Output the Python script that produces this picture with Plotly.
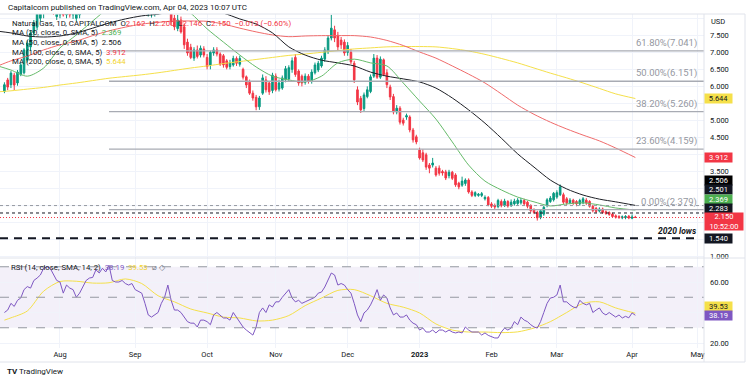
import plotly.graph_objects as go
import pandas as pd

# ============================ DATA ============================
first_day, last_day = "2022-07-07", "2023-04-04"   # daily candles, weekdays

opens = [
    5.85, 6.19, 6.05, 6.33, 6.10, 6.35, 6.40, 6.77, 7.16, 7.57,
    7.74, 8.00, 8.40, 8.80, 9.20, 8.70, 8.05, 8.10, 8.40, 8.10,
    8.30, 8.10, 8.00, 8.10, 8.30, 8.50, 8.90, 8.80, 8.70, 8.90,
    9.30, 9.30, 9.40, 9.60, 9.20, 9.30, 9.40, 9.30, 9.20, 9.10,
    9.10, 8.90, 8.80, 8.60, 8.30, 8.15, 8.20, 8.30, 8.50, 8.40,
    8.60, 8.30, 8.00, 7.70, 7.95, 7.75, 7.30, 7.15, 6.83, 7.07,
    6.92, 7.10, 6.85, 6.63, 6.98, 7.07, 6.95, 6.90, 6.75, 6.58,
    6.63, 6.82, 6.65, 6.50, 6.28, 6.12, 5.80, 5.68, 5.40, 5.80,
    6.19, 6.10, 5.88, 6.30, 5.92, 5.95, 6.20, 6.22, 6.50, 6.85,
    6.45, 6.30, 6.12, 6.30, 6.15, 6.40, 6.48, 6.60, 6.80, 7.02,
    7.42, 7.66, 7.50, 7.36, 7.30, 7.00, 7.00, 6.68, 5.90, 5.65,
    5.35, 5.70, 5.85, 6.30, 6.83, 6.27, 6.78, 6.40, 5.98, 5.70,
    5.25, 5.36, 5.01, 5.10, 5.10, 4.72, 4.52, 4.13, 4.05, 3.99,
    3.69, 3.69, 3.60, 3.60, 3.50, 3.49, 3.38, 3.48, 3.40, 3.16,
    3.10, 3.15, 3.25, 2.90, 2.80, 2.80, 2.80, 2.70, 2.74, 2.55,
    2.50, 2.47, 2.62, 2.50, 2.62, 2.50, 2.55, 2.56, 2.58, 2.65,
    2.60, 2.50, 2.38, 2.30, 2.15, 2.25, 2.50, 2.62, 2.67, 2.75,
    2.82, 2.82, 2.70, 2.58, 2.66, 2.62, 2.55, 2.58, 2.66, 2.62,
    2.48, 2.42, 2.34, 2.40, 2.32, 2.30, 2.25, 2.20, 2.18, 2.14,
    2.15, 2.19, 2.13, 2.162,
]
highs = [
    6.12, 6.25, 6.45, 6.40, 6.48, 6.70, 7.12, 7.35, 7.65, 7.95,
    8.35, 8.70, 8.90, 9.40, 9.50, 8.90, 8.50, 8.60, 8.50, 8.45,
    8.40, 8.30, 8.25, 8.40, 8.60, 9.00, 9.10, 9.00, 9.00, 9.40,
    9.50, 9.50, 9.92, 9.70, 9.50, 9.60, 9.50, 9.50, 9.30, 9.30,
    9.20, 9.00, 8.90, 8.70, 8.50, 8.50, 8.55, 8.60, 8.70, 8.90,
    8.70, 8.40, 8.10, 8.10, 8.05, 7.85, 7.40, 7.25, 7.15, 7.20,
    7.20, 7.18, 6.95, 7.05, 7.15, 7.15, 7.00, 6.95, 6.80, 6.78,
    6.90, 6.88, 6.90, 6.55, 6.32, 6.20, 5.88, 5.75, 5.72, 6.35,
    6.30, 6.15, 6.40, 6.38, 6.20, 6.32, 6.60, 6.62, 6.85, 6.95,
    6.50, 6.35, 6.38, 6.36, 6.50, 6.70, 6.75, 6.90, 7.15, 7.50,
    8.10, 7.78, 7.60, 7.45, 7.38, 7.30, 7.10, 6.75, 6.00, 5.72,
    5.82, 6.00, 6.35, 6.95, 6.92, 6.88, 6.82, 6.50, 6.05, 5.78,
    5.45, 5.42, 5.08, 5.20, 5.15, 4.78, 4.58, 4.20, 4.15, 4.05,
    3.75, 3.90, 3.66, 3.68, 3.55, 3.55, 3.55, 3.52, 3.45, 3.20,
    3.35, 3.30, 3.30, 2.95, 2.92, 2.87, 2.90, 2.80, 2.78, 2.60,
    2.56, 2.70, 2.68, 2.70, 2.66, 2.68, 2.70, 2.72, 2.73, 2.70,
    2.64, 2.54, 2.42, 2.35, 2.40, 2.50, 2.72, 2.78, 2.90, 2.95,
    3.12, 2.88, 2.75, 2.72, 2.70, 2.66, 2.70, 2.75, 2.72, 2.66,
    2.52, 2.46, 2.45, 2.44, 2.36, 2.33, 2.29, 2.24, 2.22, 2.21,
    2.22, 2.22, 2.24, 2.200,
]
lows = [
    5.80, 5.89, 5.95, 5.89, 6.02, 6.30, 6.35, 6.70, 7.05, 7.48,
    7.65, 7.90, 8.00, 8.60, 8.50, 8.10, 7.95, 8.00, 8.05, 8.00,
    8.02, 7.98, 7.92, 8.00, 8.15, 8.40, 8.60, 8.50, 8.50, 8.80,
    9.10, 9.10, 9.30, 9.00, 9.00, 9.20, 9.00, 9.00, 8.90, 8.80,
    8.70, 8.50, 8.40, 8.20, 8.05, 8.02, 8.05, 8.10, 8.20, 8.30,
    8.15, 7.80, 7.65, 7.62, 7.55, 7.10, 6.90, 6.80, 6.75, 6.82,
    6.85, 6.85, 6.50, 6.50, 6.90, 6.88, 6.60, 6.55, 6.50, 6.50,
    6.58, 6.60, 6.58, 6.20, 5.95, 5.75, 5.58, 5.30, 5.31, 5.75,
    5.82, 5.75, 5.80, 5.85, 5.85, 5.90, 6.12, 6.15, 6.40, 6.28,
    6.02, 6.00, 6.05, 6.08, 6.08, 6.35, 6.42, 6.55, 6.72, 6.95,
    7.35, 7.30, 7.05, 7.10, 6.90, 6.90, 6.65, 6.10, 5.45, 5.22,
    5.28, 5.65, 5.80, 6.25, 6.22, 6.22, 6.30, 5.95, 5.60, 5.18,
    5.18, 4.88, 4.85, 5.02, 4.65, 4.35, 4.30, 3.85, 3.78, 3.55,
    3.45, 3.62, 3.35, 3.38, 3.38, 3.25, 3.30, 3.25, 3.05, 2.98,
    3.05, 3.08, 2.85, 2.75, 2.75, 2.76, 2.75, 2.65, 2.48, 2.43,
    2.40, 2.42, 2.45, 2.46, 2.44, 2.46, 2.50, 2.52, 2.53, 2.50,
    2.42, 2.30, 2.25, 2.06, 2.10, 2.20, 2.45, 2.58, 2.62, 2.70,
    2.78, 2.55, 2.52, 2.54, 2.52, 2.48, 2.50, 2.54, 2.52, 2.44,
    2.30, 2.28, 2.30, 2.26, 2.23, 2.20, 2.15, 2.12, 2.11, 2.10,
    2.10, 2.10, 2.10, 2.146,
]
closes = [
    6.05, 5.98, 6.39, 6.04, 6.42, 6.63, 7.07, 7.27, 7.57, 7.86,
    8.24, 8.60, 8.80, 9.20, 8.70, 8.30, 8.35, 8.40, 8.10, 8.35,
    8.10, 8.20, 8.15, 8.30, 8.50, 8.90, 8.80, 8.70, 8.90, 9.30,
    9.35, 9.40, 9.60, 9.20, 9.30, 9.40, 9.30, 9.20, 9.10, 9.05,
    8.90, 8.80, 8.60, 8.40, 8.40, 8.40, 8.45, 8.50, 8.40, 8.60,
    8.30, 7.90, 7.75, 7.95, 7.60, 7.22, 6.98, 6.85, 7.07, 6.88,
    7.12, 6.92, 6.58, 7.00, 7.07, 6.95, 6.65, 6.63, 6.56, 6.70,
    6.82, 6.68, 6.82, 6.27, 6.04, 5.80, 5.66, 5.40, 5.66, 6.25,
    5.90, 5.84, 6.33, 5.90, 6.10, 6.25, 6.52, 6.55, 6.75, 6.35,
    6.10, 6.10, 6.30, 6.15, 6.42, 6.63, 6.68, 6.83, 7.07, 7.42,
    7.71, 7.42, 7.16, 7.22, 6.98, 7.20, 6.72, 6.19, 5.54, 5.31,
    5.75, 5.90, 6.28, 6.83, 6.27, 6.80, 6.35, 6.05, 5.69, 5.25,
    5.36, 4.95, 4.92, 5.14, 4.72, 4.43, 4.37, 3.90, 3.84, 3.63,
    3.60, 3.75, 3.40, 3.45, 3.46, 3.31, 3.48, 3.30, 3.11, 3.05,
    3.22, 3.25, 2.90, 2.80, 2.88, 2.83, 2.85, 2.74, 2.52, 2.48,
    2.46, 2.65, 2.50, 2.63, 2.49, 2.60, 2.63, 2.66, 2.65, 2.55,
    2.48, 2.35, 2.30, 2.14, 2.35, 2.45, 2.67, 2.72, 2.86, 2.88,
    3.05, 2.60, 2.58, 2.66, 2.57, 2.55, 2.65, 2.70, 2.58, 2.48,
    2.35, 2.33, 2.40, 2.30, 2.27, 2.24, 2.18, 2.16, 2.15, 2.17,
    2.18, 2.14, 2.163, 2.150,
]
rsi = [
    40, 41.6, 46, 44, 48, 49.5, 55, 57, 56, 61,
    62.6, 64.6, 69, 70, 69, 64.6, 61, 60, 52.7, 58,
    56, 55, 50, 52.7, 56.7, 61, 62.6, 63, 68, 65.9,
    69, 66.6, 71, 61, 60, 60, 61, 59, 58, 59,
    55, 54, 52.7, 46, 38.4, 37, 38.4, 40, 46, 50,
    58, 48, 41.6, 41.6, 40, 37, 34, 33, 33, 30.5,
    35, 35, 34, 32, 38.4, 40, 38.4, 36.4, 36.4, 35,
    40, 37, 34, 30.5, 28.5, 26.6, 25.2, 30.5, 40, 43,
    40, 45, 43.6, 47, 47, 50, 52.7, 55, 49.5, 47,
    48, 46, 47, 48, 49.5, 50, 52.7, 53.4, 56.7, 61,
    65.9, 64.6, 58, 59, 58, 55, 52.7, 46, 38.4, 34,
    39.7, 41.6, 45, 49.5, 55, 48, 51.5, 49.5, 43, 38.4,
    39.7, 37, 37, 38.4, 35, 33, 32, 28.5, 29.8, 27.2,
    27.2, 28.5, 26.6, 28.5, 28.5, 27.2, 28.5, 27.2, 26.6, 27.2,
    26.6, 30.5, 28.5, 27.2, 27.2, 27.2, 25.2, 26.6, 25, 24,
    23.3, 23.3, 27.2, 29.8, 28.5, 29.8, 34, 32, 37, 35,
    34, 32, 30.5, 29.8, 34, 40, 46, 49.5, 50, 51.5,
    58, 47, 47, 45, 43.6, 43, 48, 46, 45, 46,
    40, 41.6, 43, 39.7, 38.4, 40, 38.4, 37, 38.4, 36.4,
    37.5, 36.5, 39.7, 38.19,
]

# weekly readings of the moving averages
ma_days = [
    "2022-07-05", "2022-07-11", "2022-07-18", "2022-07-25", "2022-08-01",
    "2022-08-08", "2022-08-15", "2022-08-22", "2022-08-29", "2022-09-05",
    "2022-09-12", "2022-09-19", "2022-09-26", "2022-10-03", "2022-10-10",
    "2022-10-17", "2022-10-24", "2022-10-31", "2022-11-07", "2022-11-14",
    "2022-11-21", "2022-11-28", "2022-12-05", "2022-12-12", "2022-12-19",
    "2022-12-26", "2023-01-02", "2023-01-09", "2023-01-16", "2023-01-23",
    "2023-01-30", "2023-02-06", "2023-02-13", "2023-02-20", "2023-02-27",
    "2023-03-06", "2023-03-13", "2023-03-20", "2023-03-27", "2023-04-04",
]
ma20 = [6.60, 6.48, 6.30, 6.54, 7.13, 7.51, 7.92, 8.30, 8.50, 8.68,
        8.68, 8.50, 8.15, 7.69, 7.30, 6.92, 6.57, 6.30, 6.19, 6.13,
        6.30, 6.69, 6.80, 6.69, 6.60, 6.10, 5.57, 5.04, 4.37, 3.69,
        3.22, 2.96, 2.75, 2.61, 2.49, 2.55, 2.58, 2.52, 2.43, 2.369]
ma50 = [7.62, 7.57, 7.48, 7.45, 7.48, 7.57, 7.71, 7.86, 7.98, 8.07,
        8.12, 8.21, 8.26, 8.24, 8.15, 7.98, 7.83, 7.57, 7.16, 6.92,
        6.77, 6.69, 6.60, 6.42, 6.30, 6.22, 6.13, 5.95, 5.66, 5.31,
        4.92, 4.48, 4.02, 3.63, 3.25, 2.99, 2.81, 2.69, 2.61, 2.506]
ma100 = [6.60, 6.75, 6.89, 7.07, 7.22, 7.33, 7.49, 7.63, 7.74, 7.83,
         7.88, 7.92, 7.92, 7.91, 7.83, 7.71, 7.60, 7.51, 7.46, 7.48,
         7.49, 7.49, 7.49, 7.45, 7.35, 7.20, 7.01, 6.83, 6.60, 6.36,
         6.10, 5.78, 5.45, 5.18, 4.95, 4.75, 4.57, 4.40, 4.19, 3.912]
ma200 = [5.84, 5.87, 5.92, 5.97, 6.04, 6.10, 6.17, 6.24, 6.29, 6.34,
         6.40, 6.47, 6.54, 6.60, 6.67, 6.73, 6.79, 6.85, 6.91, 6.95,
         7.00, 7.05, 7.10, 7.13, 7.16, 7.17, 7.17, 7.16, 7.11, 7.04,
         6.94, 6.82, 6.69, 6.54, 6.39, 6.25, 6.10, 5.94, 5.78, 5.644]
rsi_ma_days = ["2022-07-07"] + ma_days[1:]
rsi_ma = [35, 36.5, 41, 54, 60.3, 60.5, 59.3, 59.5, 62, 59,
          51, 47, 42.3, 39.7, 37, 36.4, 34.5, 35, 38, 44.5,
          49.5, 54.5, 55, 51, 46, 43.5, 39.7, 32.5, 28.5, 27.2,
          27.2, 26.8, 27.3, 29.8, 34, 40, 46, 47, 43, 39.53]

fib_start = "2022-08-22"
fib_levels = [7.041, 6.151, 5.260, 4.159, 2.379]
fib_labels = ["61.80%(7.041)", "50.00%(6.151)", "38.20%(5.260)", "23.60%(4.159)", "0.00%(2.379)"]
level_gray = 2.501
level_black = 2.283
lows_2020 = 1.540

month_ticks = ["2022-08-01", "2022-09-01", "2022-10-03", "2022-11-01", "2022-12-01",
               "2023-01-02", "2023-02-01", "2023-03-01", "2023-04-03", "2023-05-01"]
month_labels = ["Aug", "Sep", "Oct", "Nov", "Dec", "<b>2023</b>", "Feb", "Mar", "Apr", "May"]
price_ticks = [1.0, 1.5, 2.0, 2.5, 3.0, 3.5, 4.0, 4.5, 5.0, 5.5, 6.0, 6.5, 7.0, 7.5, 8.0]
price_tick_text = ["1.000", "", "", "", "", "3.500", "", "4.500", "5.000", "",
                   "6.000", "6.500", "7.000", "7.500", ""]
rsi_ticks = [20, 40, 60]
rsi_tick_text = ["20.00", "", "60.00"]

# ============================ LAYOUT HELPERS ============================
W, H = 750, 382
PX_L, PX_R, PY_T, PY_B, PY_SPLIT = 0, 704, 14, 348, 258


def fx(px):
    return (px - PX_L) / (PX_R - PX_L)


def fy(py):
    return (PY_B - py) / (PY_B - PY_T)


NOON = pd.Timedelta(hours=12)


def t(d):
    return pd.Timestamp(d) + NOON


days = pd.bdate_range(first_day, last_day) + NOON
assert len(days) == len(opens) == len(highs) == len(lows) == len(closes) == len(rsi)
ma_x = [t(d) for d in ma_days]
rsi_ma_x = [t(d) for d in rsi_ma_days]

x_left = t("2022-07-06") - pd.Timedelta(hours=8.4)
x_right = t("2023-05-03")

FONT = "Roboto"
TXT = "#131722"
RED = "#f23645"
GREEN = "#089981"
MA20_C, MA50_C, MA100_C, MA200_C = "#66bb6a", "#1e2026", "#f06b6b", "#f5e04a"
RSI_C, RSI_MA_C = "#7e57c2", "#f5e04a"
GAP = "\u00a0\u00a0"

fig = go.Figure()

fig.add_trace(go.Candlestick(
    x=days, open=opens, high=highs, low=lows, close=closes,
    increasing=dict(line=dict(color=GREEN, width=1), fillcolor=GREEN),
    decreasing=dict(line=dict(color=RED, width=1), fillcolor=RED),
    whiskerwidth=0, hoverinfo="skip", xaxis="x", yaxis="y"))

for vals, col in [(ma200, MA200_C), (ma100, MA100_C), (ma50, MA50_C), (ma20, MA20_C)]:
    fig.add_trace(go.Scatter(x=ma_x, y=vals, mode="lines",
                             line=dict(color=col, width=1, shape="spline", smoothing=0.8),
                             hoverinfo="skip", xaxis="x", yaxis="y"))

fig.add_trace(go.Scatter(x=rsi_ma_x, y=rsi_ma, mode="lines",
                         line=dict(color=RSI_MA_C, width=1, shape="spline", smoothing=0.8),
                         hoverinfo="skip", xaxis="x", yaxis="y2"))
fig.add_trace(go.Scatter(x=days, y=rsi, mode="lines", line=dict(color=RSI_C, width=1),
                         hoverinfo="skip", xaxis="x", yaxis="y2"))

shapes = []
# RSI band
shapes.append(dict(type="rect", xref="paper", yref="y2", x0=0, x1=1, y0=30, y1=70,
                   fillcolor="rgba(126,87,194,0.09)", line=dict(width=0), layer="below"))
for lv in (70, 50, 30):
    shapes.append(dict(type="line", xref="paper", yref="y2", x0=0, x1=1, y0=lv, y1=lv,
                       line=dict(color="#9598a1", width=1, dash="dash")))
# fib levels
for lv in fib_levels:
    shapes.append(dict(type="line", xref="x", yref="y", x0=t(fib_start), x1=x_right, y0=lv, y1=lv,
                       line=dict(color="#a8abb3", width=1.3)))
# horizontal levels
shapes.append(dict(type="line", xref="paper", yref="y", x0=0, x1=1, y0=level_gray, y1=level_gray,
                   line=dict(color="#9598a1", width=1, dash="3px,3px")))
shapes.append(dict(type="line", xref="paper", yref="y", x0=0, x1=1, y0=level_black, y1=level_black,
                   line=dict(color=TXT, width=1, dash="3px,3px")))
shapes.append(dict(type="line", xref="paper", yref="y", x0=0, x1=fx(700), y0=lows_2020, y1=lows_2020,
                   line=dict(color=TXT, width=2, dash="8px,6px")))
shapes.append(dict(type="line", xref="paper", yref="y", x0=0, x1=1, y0=closes[-1], y1=closes[-1],
                   line=dict(color=RED, width=1, dash="1px,2px")))
# frame lines
BORDER = "#e0e3eb"
shapes += [
    dict(type="line", xref="paper", yref="paper", x0=0, x1=fx(745), y0=fy(PY_SPLIT), y1=fy(PY_SPLIT),
         line=dict(color=BORDER, width=1)),
    dict(type="line", xref="paper", yref="paper", x0=1, x1=1, y0=fy(14), y1=fy(362),
         line=dict(color=BORDER, width=1)),
    dict(type="line", xref="paper", yref="paper", x0=fx(745), x1=fx(745), y0=fy(14), y1=fy(362),
         line=dict(color=BORDER, width=1)),
    dict(type="line", xref="paper", yref="paper", x0=0, x1=fx(745), y0=fy(14), y1=fy(14),
         line=dict(color=BORDER, width=1)),
    dict(type="line", xref="paper", yref="paper", x0=0, x1=fx(745), y0=fy(362), y1=fy(362),
         line=dict(color=BORDER, width=1)),
]

ann = []


def text_at(px, py, text, size=7.5, color=TXT, xanchor="left"):
    ann.append(dict(x=fx(px), y=fy(py), xref="paper", yref="paper", text=text, showarrow=False,
                    xanchor=xanchor, yanchor="middle", font=dict(family=FONT, size=size, color=color)))


def span(txt, col):
    return f'<span style="color:{col}">{txt}</span>'


text_at(6, 7, "Capitalcom published on TradingView.com, Apr 04, 2023 10:07 UTC", size=8)
line1 = ("Natural Gas, 1D, CAPITALCOM" + GAP + "O" + span(f"{opens[-1]:.3f}", RED) + GAP + "H" +
         span(f"{highs[-1]:.3f}", RED) + GAP + "L" + span(f"{lows[-1]:.3f}", RED) + GAP + "C" +
         span(f"{closes[-1]:.3f}", RED) + GAP +
         span(f"\u2212{opens[-1] - closes[-1] + 0.001:.3f} (\u22120.60%)", RED))
text_at(10, 23, line1, size=7.8)
text_at(10, 33, "MA (20, close, 0, SMA, 5)" + GAP + span(f"{ma20[-1]:.3f}", "#4caf50"), size=7.8)
text_at(10, 42.5, "MA (50, close, 0, SMA, 5)" + GAP + span(f"{ma50[-1]:.3f}", TXT), size=7.8)
text_at(10, 52, "MA (100, close, 0, SMA, 5)" + GAP + span(f"{ma100[-1]:.3f}", RED), size=7.8)
text_at(10, 61.5, "MA (200, close, 0, SMA, 5)" + GAP + span(f"{ma200[-1]:.3f}", "#f2d32c"), size=7.8)
text_at(9, 267, "RSI (14, close, SMA, 14, 2)" + GAP + span(f"{rsi[-1]:.2f}", RSI_C) + GAP +
        span(f"{rsi_ma[-1]:.2f}", "#f2d32c") + GAP + span("\u2300 \u25c7", "#787b86"), size=7.8)
text_at(709, 22, "USD")
text_at(5, 371, "<b>TV</b> TradingView", size=8)

# fib labels
for lv, lab in zip(fib_levels, fib_labels):
    ann.append(dict(x=t("2023-05-01"), y=lv, xref="x", yref="y", text=lab,
                    showarrow=False, xanchor="right", yanchor="bottom", yshift=0, xshift=2,
                    font=dict(family=FONT, size=9.5, color="#9598a1")))
ann.append(dict(x=t("2023-05-01"), y=lows_2020, xref="x", yref="y", text="<b><i>2020 lows</i></b>",
                showarrow=False, xanchor="right", yanchor="bottom", yshift=0, xshift=2,
                font=dict(family=FONT, size=8.5, color=TXT)))

# price-scale tags
tags = [
    ("y", ma200[-1], f"{ma200[-1]:.3f}", "#f5e04a", TXT, 0),
    ("y", ma100[-1], f"{ma100[-1]:.3f}", RED, "white", 0),
    ("y", ma50[-1], f"{ma50[-1]:.3f}", "#000000", "white", 25),
    ("y", level_gray, f"{level_gray:.3f}", "#131722", "white", 16.5),
    ("y", ma20[-1], f"{ma20[-1]:.3f}", "#4caf50", "white", 11),
    ("y", level_black, f"{level_black:.3f}", "#131722", "white", 4),
    ("y", lows_2020, f"{lows_2020:.3f}", "#131722", "white", 0),
    ("y2", rsi_ma[-1], f"{rsi_ma[-1]:.2f}", "#f5e04a", TXT, 7),
    ("y2", rsi[-1], f"{rsi[-1]:.2f}", RSI_C, "white", 0),
]
for yr, v, txt, bg, fg, sh in tags:
    ann.append(dict(x=1, xref="paper", y=v, yref=yr, text=txt, showarrow=False,
                    xanchor="left", yanchor="middle", yshift=sh, bgcolor=bg, width=27, height=9,
                    borderpad=0, align="center", font=dict(family=FONT, size=7.5, color=fg)))
ann.append(dict(x=1, xref="paper", y=closes[-1], yref="y", text=f"{closes[-1]:.3f}<br>10:52:00",
                showarrow=False, xanchor="left", yanchor="middle", yshift=-4.2, bgcolor=RED,
                width=38, height=17, borderpad=0, align="center",
                font=dict(family=FONT, size=7.5, color="white")))

GRID = "#f0f3fa"
fig.update_layout(
    width=W, height=H,
    margin=dict(l=PX_L, r=W - PX_R, t=PY_T, b=H - PY_B),
    paper_bgcolor="white", plot_bgcolor="white", showlegend=False,
    font=dict(family=FONT, size=7.5, color=TXT),
    xaxis=dict(type="date", domain=[0, 1], anchor="y2", range=[x_left, x_right],
               rangebreaks=[dict(bounds=["sat", "mon"])],
               tickvals=[t(d) for d in month_ticks], ticktext=month_labels,
               showgrid=True, gridcolor=GRID, gridwidth=1, zeroline=False, showline=False,
               ticks="", tickfont=dict(family=FONT, size=7.5, color=TXT),
               rangeslider=dict(visible=False), fixedrange=True),
    yaxis=dict(domain=[fy(PY_SPLIT), 1], anchor="x", side="right", range=[0.9615, 8.1254],
               tickvals=price_ticks, ticktext=price_tick_text, showgrid=True, gridcolor=GRID,
               zeroline=False, showline=False, ticks="", ticklabelstandoff=5,
               tickfont=dict(family=FONT, size=7.5, color=TXT), fixedrange=True),
    yaxis2=dict(domain=[0, fy(PY_SPLIT)], anchor="x", side="right", range=[16.72, 75.74],
                tickvals=rsi_ticks, ticktext=rsi_tick_text, showgrid=True, gridcolor=GRID,
                zeroline=False, showline=False, ticks="", ticklabelstandoff=5,
                tickfont=dict(family=FONT, size=7.5, color=TXT), fixedrange=True),
    shapes=shapes, annotations=ann,
)

fig.write_html("out.html", config={"displayModeBar": False},
               post_script="document.body.style.margin='0';document.body.style.overflow='hidden';")
